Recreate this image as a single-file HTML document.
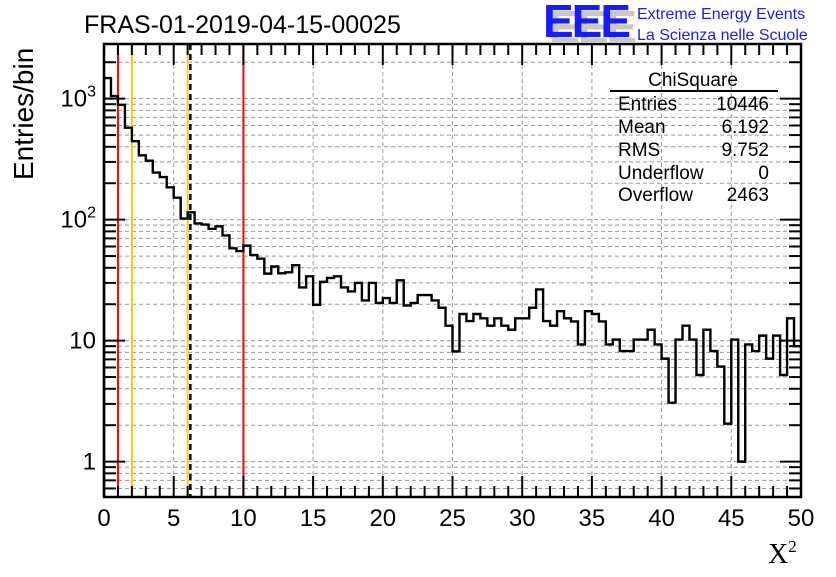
<!DOCTYPE html>
<html><head><meta charset="utf-8"><style>
body{margin:0;background:#fff;}
svg text{font-family:"Liberation Sans",sans-serif;}
</style></head><body>
<svg id="c" width="836" height="572" viewBox="0 0 836 572" xmlns="http://www.w3.org/2000/svg">
<rect width="836" height="572" fill="#fff"/>
<g id="grid"></g>
<g id="lines"></g>
<path id="hist" fill="none" stroke="#000" stroke-width="2.4"/>
<g id="axes"></g>
<text x="84" y="33" font-size="25">FRAS-01-2019-04-15-00025</text>
<text x="0" y="0" font-size="28" transform="translate(33,180) rotate(-90)">Entries/bin</text>
<text x="768" y="563" font-size="28" style="font-family:'Liberation Serif',serif">X<tspan font-size="17" dy="-11">2</tspan></text>
<g>
<text x="549" y="43" font-size="46" font-weight="bold" fill="#c8c8c8" letter-spacing="-2">EEE</text>
<text x="543" y="37" font-size="46" font-weight="bold" fill="#1a1aff" letter-spacing="-2">EEE</text>
<text x="637" y="19" font-size="16" fill="#1a1aff">Extreme Energy Events</text>
<text x="637" y="40" font-size="16" fill="#1a1aff">La Scienza nelle Scuole</text>
</g>
<g font-size="19">
<text x="693" y="86" text-anchor="middle">ChiSquare</text>
<line x1="610" y1="91" x2="778" y2="91" stroke="#000" stroke-width="2"/>
<text x="618" y="110">Entries</text><text x="769" y="110" text-anchor="end">10446</text>
<text x="618" y="133">Mean</text><text x="769" y="133" text-anchor="end">6.192</text>
<text x="618" y="156">RMS</text><text x="769" y="156" text-anchor="end">9.752</text>
<text x="618" y="179">Underflow</text><text x="769" y="179" text-anchor="end">0</text>
<text x="618" y="201">Overflow</text><text x="769" y="201" text-anchor="end">2463</text>
</g>
</svg>
<script>
const binWidth = 0.5;
const counts = [1480,1050,890,575,445,340,307,245,225,185,152,102,115,93,91,84,88,74,58,55,61,51,47.6,35.8,41,36,36.7,42,27.5,34,19.8,30.6,33,34,27.5,25.5,30,21.5,30,20.5,22.5,20.5,31.5,19.5,20.5,23.8,23.8,21.5,18.7,13.3,8.15,16.6,14.5,16.6,15.3,13.3,15.3,13.3,12.3,15.3,15.3,18.7,26.5,14.5,13.3,17.5,15.3,14.4,9.3,17.5,16.6,14.4,9.3,10.2,8.2,8.2,10.2,10.2,12.3,9.3,7.1,3.07,10.2,13.3,10.2,5.2,12.3,8.2,6.1,2.06,10.2,1.0,9.3,8.2,11,7.1,11,5.2,15.3,9];
const xTicks = [0,5,10,15,20,25,30,35,40,45,50];
const yTicks = [1,10,100,1000];
const cutLines = [{x:1,c:"#ff0000",n:"red-cut-line-1"},{x:2,c:"#ffcc00",n:"yellow-cut-line-2"},{x:6,c:"#ffcc00",n:"yellow-cut-line-6"},{x:10,c:"#ff0000",n:"red-cut-line-10"}];
const meanValue = 6.192;

const X0=104,X1=801,Y0=497,Y1=44,xMin=0,xMax=50,yMin=Math.log10(0.51),yMax=Math.log10(2830);
const sx=v=>X0+(v-xMin)/(xMax-xMin)*(X1-X0);
const sy=v=>Y0-(Math.log10(v)-yMin)/(yMax-yMin)*(Y0-Y1);
const NS="http://www.w3.org/2000/svg";
function mk(tag,attrs,parent){const e=document.createElementNS(NS,tag);for(const k in attrs)e.setAttribute(k,attrs[k]);parent.appendChild(e);return e;}
const grid=document.getElementById('grid'),axes=document.getElementById('axes'),lines=document.getElementById('lines');
xTicks.forEach(t=>{if(t>xMin&&t<xMax){const l=mk('line',{x1:sx(t),x2:sx(t),y1:Y1,y2:Y0,stroke:'#999','stroke-dasharray':'4,3','stroke-width':1},grid);

}});
for(let d=-1;d<=3;d++){for(let m=1;m<=9;m++){const v=m*Math.pow(10,d);const y=sy(v);if(y<Y1||y>Y0)continue;
const l=mk('line',{x1:X0,x2:X1,y1:y,y2:y,stroke:'#999','stroke-dasharray':'4,3','stroke-width':1},grid);


const big=m===1;
const tk=mk('line',{x1:X0,x2:X0+(big?21:12),y1:y,y2:y,stroke:'#000','stroke-width':2},axes);


const tk2=mk('line',{x1:X1,x2:X1-(big?21:12),y1:y,y2:y,stroke:'#000','stroke-width':2},axes);

}}
cutLines.forEach(c=>{const l=mk('line',{x1:sx(c.x),x2:sx(c.x),y1:Y1,y2:Y0,stroke:c.c,'stroke-width':2},lines);

});
const ml=mk('line',{x1:sx(meanValue),x2:sx(meanValue),y1:Y1,y2:Y0,stroke:'#000','stroke-width':2.5,'stroke-dasharray':'6,4'},lines);


let d='';counts.forEach((c,i)=>{const xa=sx(i*binWidth),xb=sx((i+1)*binWidth),y=sy(c);d+=(i===0?`M${xa},${Y0}L${xa},${y}`:`L${xa},${y}`)+`L${xb},${y}`;});
document.getElementById('hist').setAttribute('d',d);
for(let v=0;v<=50;v+=1){const x=sx(v);const big=v%5===0;
const t=mk('line',{x1:x,x2:x,y1:Y0,y2:Y0-(big?21:11),stroke:'#000','stroke-width':2},axes);


const t2=mk('line',{x1:x,x2:x,y1:Y1,y2:Y1+(big?21:11),stroke:'#000','stroke-width':2},axes);

}
xTicks.forEach(t=>{const tx=mk('text',{x:sx(t),y:Y0+29,'font-size':24,'text-anchor':'middle'},axes);tx.textContent=String(t);

});
yTicks.forEach((t,i)=>{const tx=mk('text',{x:X0-8,y:sy(t)+8,'font-size':24,'text-anchor':'end'},axes);
if(t>=100){tx.textContent='10';const s=mk('tspan',{'font-size':16,dy:-10},tx);s.textContent=t===100?'2':'3';}else tx.textContent=String(t);

});
const fr=mk('rect',{x:X0,y:Y1,width:X1-X0,height:Y0-Y1,fill:'none',stroke:'#000','stroke-width':2.5},axes);


</script>
</body></html>
